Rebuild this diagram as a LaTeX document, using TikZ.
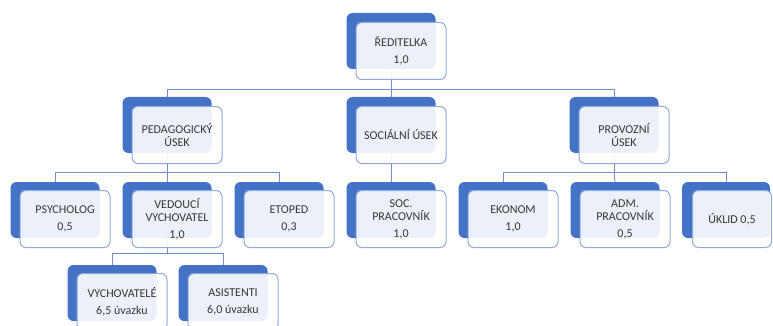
\documentclass[tikz,border=0pt]{standalone}
\usepackage{fontspec}
\setmainfont{Carlito}
\definecolor{backblue}{HTML}{4472C4}
\definecolor{frontline}{HTML}{8FAADC}
\definecolor{linkblue}{HTML}{6F8FCF}
\definecolor{txt}{HTML}{363636}
\tikzset{
  backbox/.style={minimum width=89pt, minimum height=56pt, inner sep=0pt,
    rounded corners=6pt, fill=backblue, draw=none},
  frontbox/.style={minimum width=90pt, minimum height=57pt, inner sep=0pt,
    rounded corners=6pt, fill=white, fill opacity=0.9, text opacity=1,
    draw=frontline, line width=1pt, align=center, text=txt,
    font=\fontsize{12}{13}\selectfont},
  link/.style={draw=linkblue, line width=0.9pt},
}
\newcommand{\num}[1]{\\[4pt]#1}
\begin{document}
\begin{tikzpicture}[x=1pt, y=-1pt]
\useasboundingbox (0,0) rectangle (773,326);
\clip (0,0) rectangle (773,326);
% back boxes
\node[backbox] (rootb) at (391,41) {};
\node[backbox] (pedb) at (167,125) {};
\node[backbox] (socb) at (391,125) {};
\node[backbox] (provb) at (614,125) {};
\node[backbox] (psyb) at (55,210) {};
\node[backbox] (vedb) at (167,210) {};
\node[backbox] (etob) at (279,210) {};
\node[backbox] (socpb) at (391,210) {};
\node[backbox] (ekob) at (503,210) {};
\node[backbox] (admb) at (615,210) {};
\node[backbox, minimum width=88pt] (uklb) at (726,210) {};
\node[backbox] (vycb) at (112,293) {};
\node[backbox] (asib) at (223,293) {};
% connectors
\draw[link] (rootb.south) -- ++(0,20) coordinate (hub1);
\draw[link] (pedb.north) |- (hub1) -| (provb.north);
\draw[link] (hub1) -- (socb.north);
\draw[link] (pedb.south) -- ++(0,19) coordinate (hub2);
\draw[link] (psyb.north) |- (hub2) -| (etob.north);
\draw[link] (hub2) -- (vedb.north);
\draw[link] (socb.south) -- (socpb.north);
\draw[link] (provb.south) -- ++(0,19) coordinate (hub3);
\draw[link] (ekob.north) |- (hub3) -| (uklb.north);
\draw[link] (hub3) -- (admb.north);
\draw[link] (vedb.south) -- ++(0,15) coordinate (hub4);
\draw[link] (vycb.north) |- (hub4) -| (asib.north);
% front boxes
\node[frontbox] (root) at (401,51) {ŘEDITELKA\num{1,0}};
\node[frontbox] (ped) at (177,135) {PEDAGOGICKÝ\\ÚSEK};
\node[frontbox] (soc) at (401,135) {SOCIÁLNÍ ÚSEK};
\node[frontbox] (prov) at (624,135) {PROVOZNÍ\\ÚSEK};
\node[frontbox] (psy) at (65,219) {PSYCHOLOG\num{0,5}};
\node[frontbox] (ved) at (177,219) {VEDOUCÍ\\VYCHOVATEL\num{1,0}};
\node[frontbox] (eto) at (289,219) {ETOPED\num{0,3}};
\node[frontbox] (socp) at (401,219) {SOC.\\PRACOVNÍK\num{1,0}};
\node[frontbox] (eko) at (513,219) {EKONOM\num{1,0}};
\node[frontbox] (adm) at (625,219) {ADM.\\PRACOVNÍK\num{0,5}};
\node[frontbox, minimum width=79pt] (ukl) at (732,219) {ÚKLID 0,5};
\node[frontbox] (vyc) at (122,302) {VYCHOVATELÉ\num{6,5 úvazku}};
\node[frontbox] (asi) at (233,302) {ASISTENTI\num{6,0 úvazku}};
\end{tikzpicture}
\end{document}
